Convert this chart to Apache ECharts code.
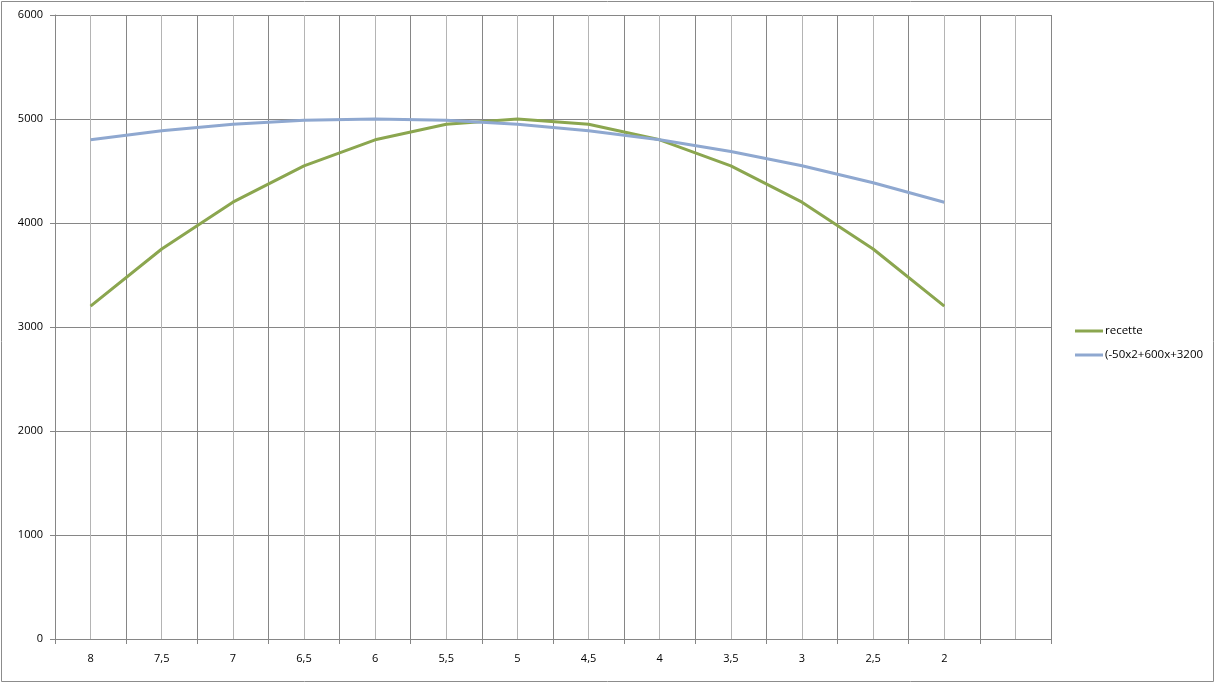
<!DOCTYPE html>
<html><head><meta charset="utf-8">
<script src="https://cdn.jsdelivr.net/npm/echarts@6/dist/echarts.min.js"></script>
<style>html,body{margin:0;padding:0;background:#fff}#c{width:1216px;height:684px}</style>
</head><body><div id="c"></div>
<script>
const categories = ['8','7,5','7','6,5','6','5,5','5','4,5','4','3,5','3','2,5','2',''];
const recette = [3200,3750,4200,4550,4800,4950,5000,4950,4800,4550,4200,3750,3200];
const poly = [4800,4887.5,4950,4987.5,5000,4987.5,4950,4887.5,4800,4687.5,4550,4387.5,4200];
const seriesNames = ['recette','(-50x2+600x+3200'];
const yTicks = {min:0,max:6000,interval:1000};
const minorCats = Array(categories.length*2).fill('');

const chart = echarts.init(document.getElementById('c'));
const font = '"Open Sans", "Liberation Sans", sans-serif';
chart.setOption({
  animation:false,
  backgroundColor:'#fff',
  graphic:[{type:'rect',shape:{x:1.5,y:1.5,width:1212,height:680},style:{fill:'none',stroke:'#8c8c8c',lineWidth:1},z:-1}],
  grid:{left:55,right:165,top:15,bottom:45,containLabel:false},
  legend:{
    orient:'vertical',left:1070,top:320,itemWidth:28,itemHeight:3,itemGap:12,icon:'rect',
    textStyle:{fontFamily:font,fontSize:11.5,color:'#000',padding:[0,0,0,-3]},
    data:seriesNames
  },
  xAxis:[{
    type:'category',data:categories,boundaryGap:true,
    axisLine:{lineStyle:{color:'#868686'}},
    axisTick:{show:true,length:5,interval:0,lineStyle:{color:'#868686'}},
    axisLabel:{interval:0,fontFamily:font,fontSize:11,color:'#000',margin:14},
    splitLine:{show:true,interval:0,lineStyle:{color:'#868686',width:1}},
    z:3
  },{
    type:'category',data:minorCats,boundaryGap:true,position:'bottom',
    axisLine:{show:false},axisTick:{show:false},axisLabel:{show:false},
    splitLine:{show:true,interval:0,lineStyle:{color:'#b4b4b4',width:1}},
    z:1
  }],
  yAxis:{
    type:'value',min:yTicks.min,max:yTicks.max,interval:yTicks.interval,
    axisLine:{show:true,lineStyle:{color:'#868686'}},
    axisTick:{show:true,length:5,lineStyle:{color:'#868686'}},
    axisLabel:{fontFamily:font,fontSize:11,color:'#000',margin:12,formatter:v=>String(v)},
    splitLine:{show:true,lineStyle:{color:'#868686'}}
  },
  series:[
    {name:seriesNames[0],type:'line',data:recette,symbol:'none',smooth:false,
     lineStyle:{color:'#8ba64f',width:3},itemStyle:{color:'#8ba64f'},z:3},
    {name:seriesNames[1],type:'line',data:poly,symbol:'none',smooth:false,
     lineStyle:{color:'#8fa8d0',width:3},itemStyle:{color:'#8fa8d0'},z:4}
  ]
});
</script></body></html>
